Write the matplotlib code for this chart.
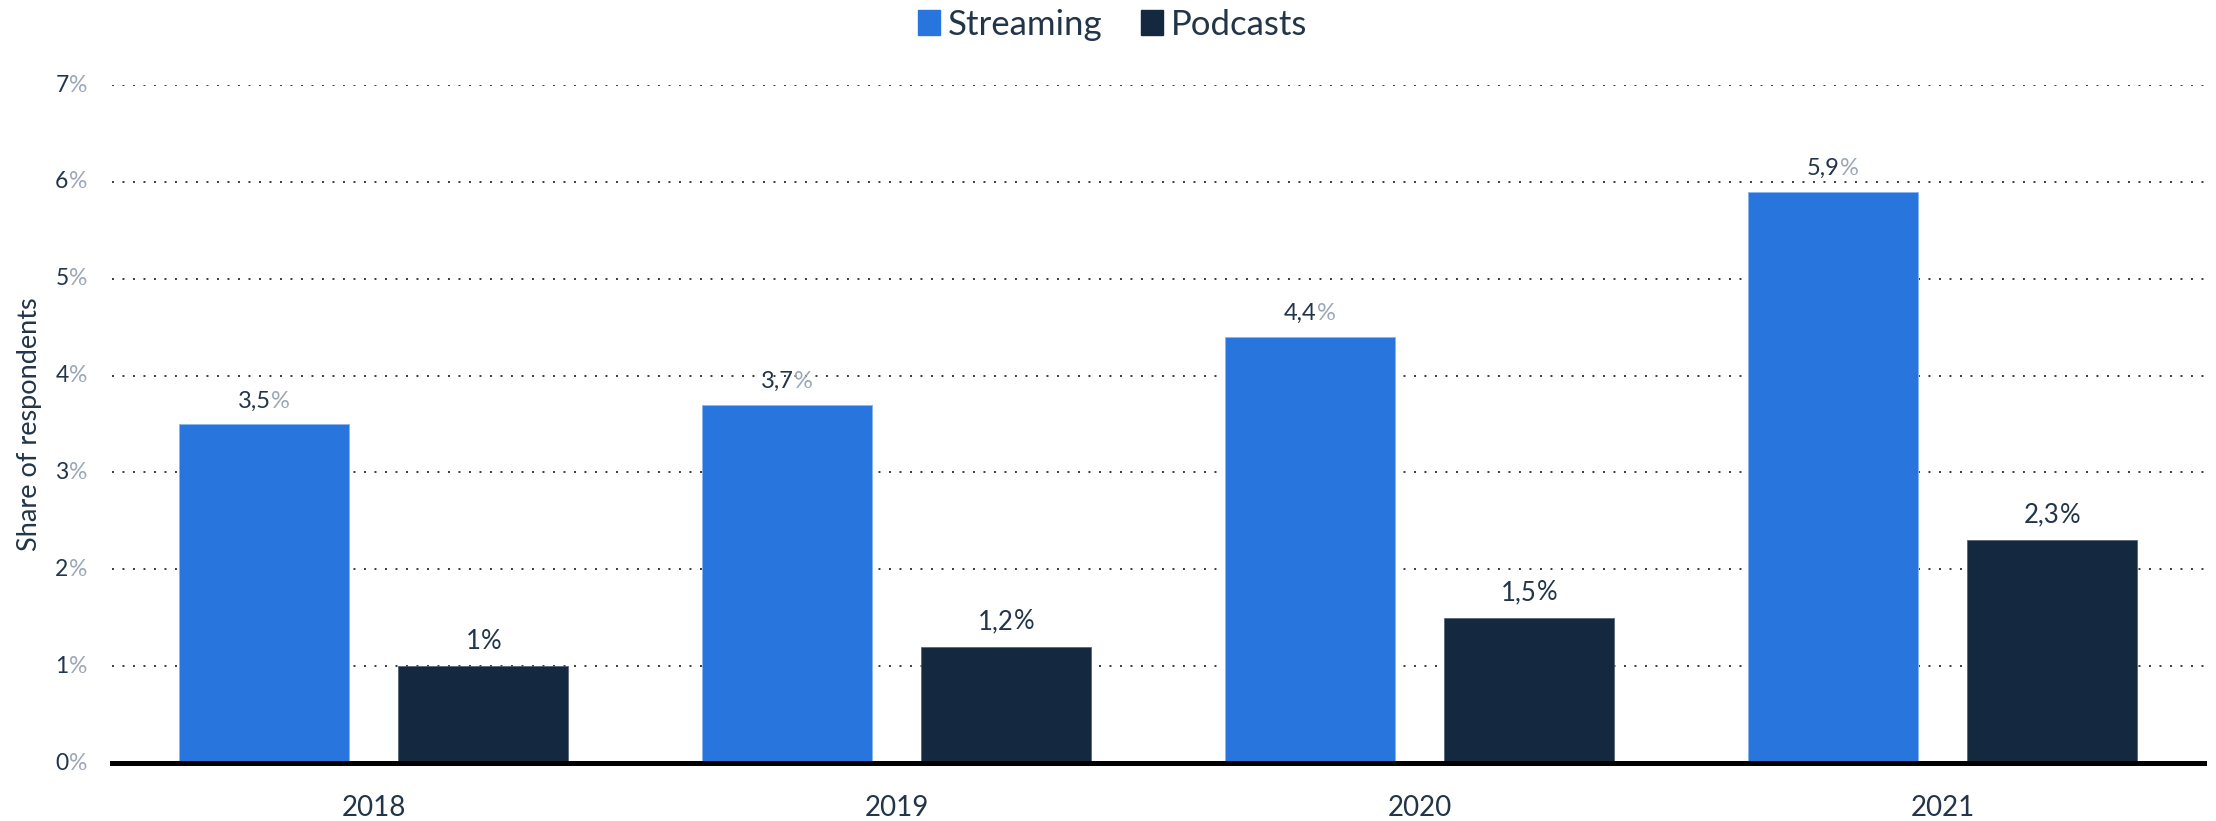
import matplotlib
matplotlib.use("Agg")
import matplotlib.pyplot as plt
from matplotlib.patches import Patch
import numpy as np

years = ["2018", "2019", "2020", "2021"]
streaming = [3.5, 3.7, 4.4, 5.9]
podcasts = [1.0, 1.2, 1.5, 2.3]
y_ticks = [0, 1, 2, 3, 4, 5, 6, 7]
series_names = ["Streaming", "Podcasts"]

BLUE = "#2876dd"
NAVY = "#14283f"
TEXT = "#233549"
PCT_GRAY = "#9ba7b6"

plt.rcParams["font.family"] = ["Lato", "DejaVu Sans"]

DPI = 100
fig = plt.figure(figsize=(22.16, 8.21), dpi=DPI)
ax = fig.add_axes([112 / 2216, 58 / 821, (2204 - 112) / 2216, (763 - 85) / 821])

x = np.arange(len(years))
offset = 0.21
width = 0.325
ax.bar(x - offset, streaming, width, color=BLUE, edgecolor="#8ab6ef", linewidth=0.7, zorder=3)
ax.bar(x + offset, podcasts, width, color=NAVY, edgecolor="#4d5d70", linewidth=0.5, zorder=3)

ax.set_xlim(-0.5, len(years) - 0.5)
ax.set_ylim(0, 7)
ax.set_yticks(y_ticks)
ax.yaxis.grid(True, linestyle=(0, (1, 4.4)), color="#3a3a3a", linewidth=1.4, zorder=0)
ax.set_axisbelow(True)
for s in ["top", "right", "left"]:
    ax.spines[s].set_visible(False)
ax.spines["bottom"].set_color("black")
ax.spines["bottom"].set_linewidth(3.6)
ax.spines["bottom"].set_zorder(4)

ax.set_xticks(x)
ax.set_xticklabels(years, fontsize=20, color=TEXT)
ax.tick_params(axis="x", length=0, pad=23)
ax.tick_params(axis="y", length=0, labelleft=False)

# y tick labels: dark number followed by a light grey percent sign
ytrans = ax.get_yaxis_transform()
for v in y_ticks:
    pct = ax.annotate("%", xy=(0, v), xycoords=ytrans, xytext=(-18, 0),
                      textcoords="offset points", ha="right", va="center",
                      fontsize=16.5, color=PCT_GRAY, annotation_clip=False)
    ax.annotate(str(v), xy=(0, 0), xycoords=pct, ha="right", va="bottom",
                fontsize=16.5, color=TEXT, annotation_clip=False)

fig.text(30 / 2216, 0.483, "Share of respondents", rotation=90, ha="center",
         va="center", fontsize=19.5, color=TEXT)


def fmt(v):
    return f"{v:g}".replace(".", ",")


fig.canvas.draw()
renderer = fig.canvas.get_renderer()
pt_per_px = 72 / DPI


def value_label(xc, val, size, num_color, pct_color):
    num = ax.annotate(fmt(val), xy=(xc, val), xytext=(0, 9), textcoords="offset points",
                      ha="left", va="bottom", fontsize=size, color=num_color)
    pct = ax.annotate("%", xy=(1, 0), xycoords=num, ha="left", va="bottom",
                      fontsize=size, color=pct_color)
    w = num.get_window_extent(renderer).width + pct.get_window_extent(renderer).width
    num.set_position((-w / 2 * pt_per_px, 9))


for xi, v in zip(x - offset, streaming):
    value_label(xi, v, 17, TEXT, PCT_GRAY)
for xi, v in zip(x + offset, podcasts):
    value_label(xi, v, 18.5, TEXT, TEXT)

handles = [Patch(facecolor=BLUE, edgecolor=BLUE), Patch(facecolor=NAVY, edgecolor=NAVY)]
fig.legend(handles, series_names, loc="center", bbox_to_anchor=(0.502, 1 - 25 / 821),
           ncol=2, frameon=False, fontsize=25, handlelength=0.63, handleheight=0.72,
           handletextpad=0.23, columnspacing=1.12, labelcolor=TEXT)

fig.savefig("out.png", dpi=DPI)
